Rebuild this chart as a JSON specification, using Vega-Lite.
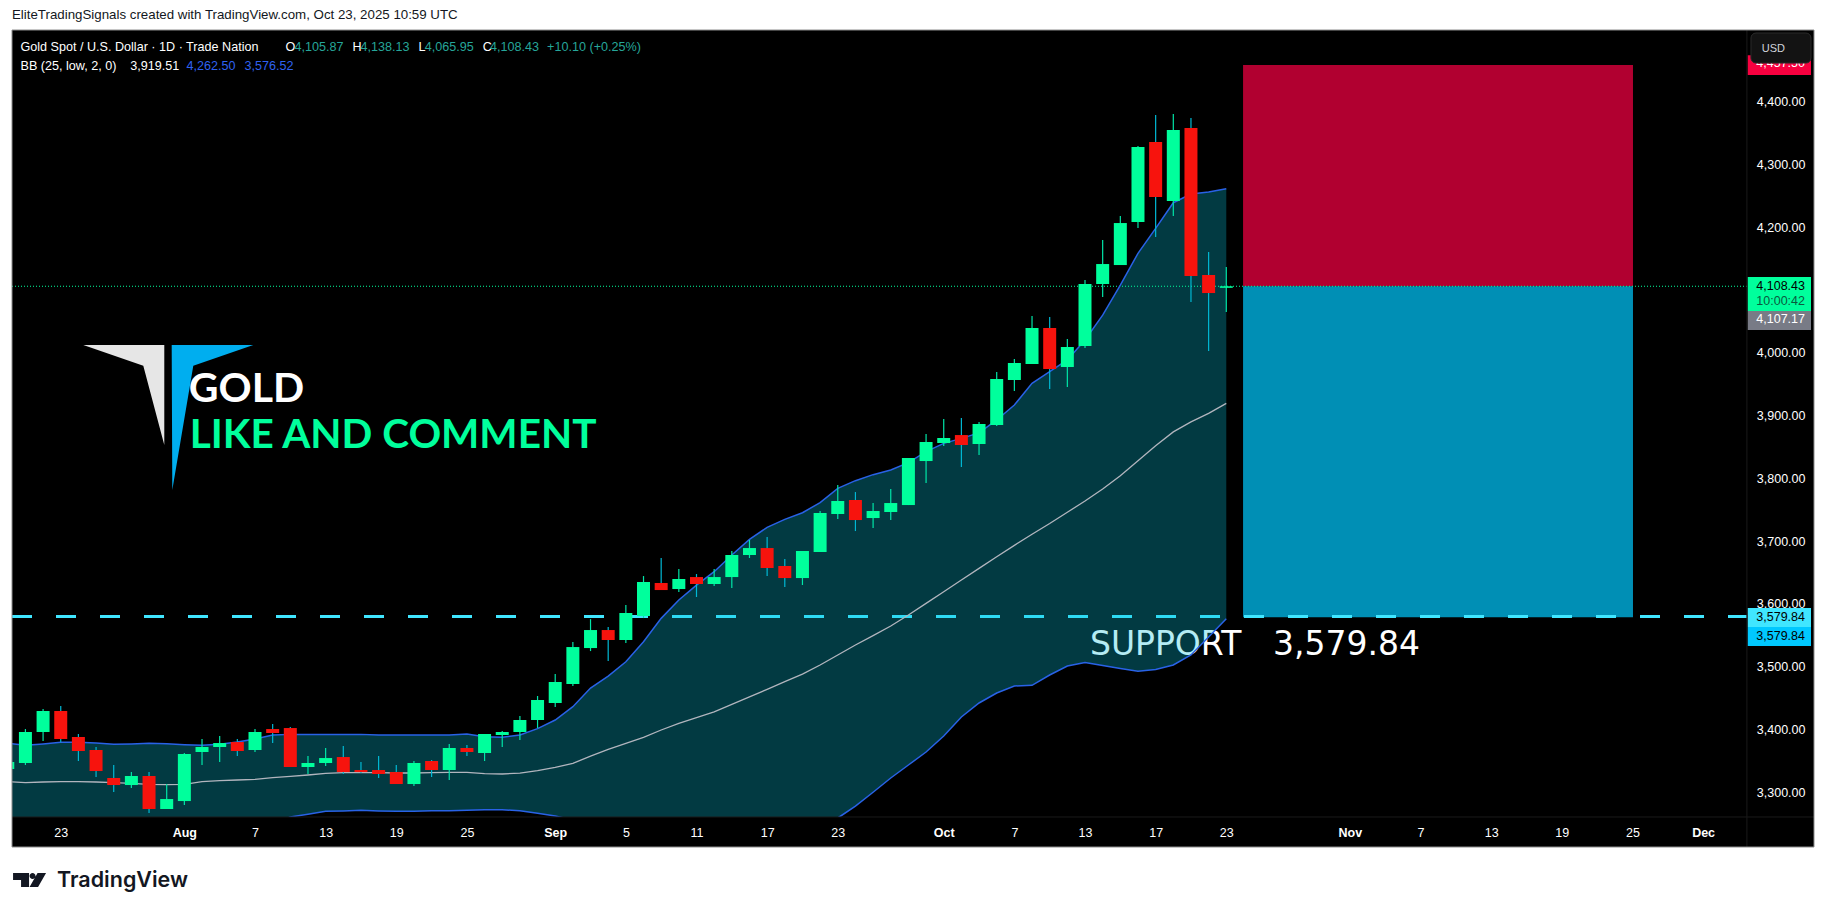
{
  "$schema": "https://vega.github.io/schema/vega-lite/v6.json",
  "width": 1802,
  "height": 817,
  "autosize": "none",
  "padding": {"left": 12, "top": 30, "right": 12, "bottom": 67},
  "background": "#ffffff",
  "view": {"fill": "#000000", "stroke": null},
  "title": {"text": "EliteTradingSignals created with TradingView.com, Oct 23, 2025 10:59 UTC", "anchor": "start", "frame": "group", "offset": 8, "fontSize": 13.3, "fontWeight": "normal", "font": "Liberation Sans", "color": "#131722"},
  "config": {"text": {"font": "Liberation Sans"}},
  "resolve": {"scale": {"color": "independent"}},
  "datasets": {
    "candles": [
      {"i":0,"o":3337,"h":3348.2,"l":3337,"c":3348.2,"dir":"up"},
      {"i":1,"o":3346.6,"h":3400.7,"l":3343.4,"c":3396,"dir":"up"},
      {"i":2,"o":3396,"h":3432.6,"l":3381.6,"c":3429.4,"dir":"up"},
      {"i":3,"o":3429.4,"h":3437.4,"l":3379.5,"c":3384.8,"dir":"down"},
      {"i":4,"o":3388,"h":3392.8,"l":3349.8,"c":3365.7,"dir":"down"},
      {"i":5,"o":3367.3,"h":3372.1,"l":3324.3,"c":3333.8,"dir":"down"},
      {"i":6,"o":3322.7,"h":3343.4,"l":3300.4,"c":3311.5,"dir":"down"},
      {"i":7,"o":3311.5,"h":3332.2,"l":3306.8,"c":3325.9,"dir":"up"},
      {"i":8,"o":3325.9,"h":3332.2,"l":3266.9,"c":3273.3,"dir":"down"},
      {"i":9,"o":3273.3,"h":3313.1,"l":3273.3,"c":3289.2,"dir":"up"},
      {"i":10,"o":3286,"h":3362.5,"l":3279.6,"c":3360.9,"dir":"up"},
      {"i":11,"o":3364.1,"h":3384.8,"l":3343.4,"c":3372.1,"dir":"up"},
      {"i":12,"o":3372.1,"h":3389.6,"l":3348.2,"c":3378.4,"dir":"up"},
      {"i":13,"o":3380,"h":3384.8,"l":3357.7,"c":3365.7,"dir":"down"},
      {"i":14,"o":3367.3,"h":3400.7,"l":3364.1,"c":3396,"dir":"up"},
      {"i":15,"o":3400.7,"h":3408.7,"l":3378.4,"c":3394.4,"dir":"down"},
      {"i":16,"o":3402.3,"h":3403.9,"l":3340.2,"c":3340.2,"dir":"down"},
      {"i":17,"o":3340.2,"h":3357.7,"l":3329.1,"c":3346.6,"dir":"up"},
      {"i":18,"o":3346.6,"h":3370.5,"l":3341.8,"c":3354.5,"dir":"up"},
      {"i":19,"o":3356.1,"h":3373.7,"l":3329.1,"c":3332.2,"dir":"down"},
      {"i":20,"o":3335.4,"h":3348.2,"l":3330.6,"c":3332.2,"dir":"down"},
      {"i":21,"o":3335.4,"h":3357.7,"l":3322.7,"c":3329.1,"dir":"down"},
      {"i":22,"o":3332.2,"h":3343.4,"l":3313.1,"c":3313.1,"dir":"down"},
      {"i":23,"o":3313.1,"h":3349.8,"l":3309.9,"c":3346.6,"dir":"up"},
      {"i":24,"o":3349.8,"h":3351.4,"l":3324.3,"c":3335.4,"dir":"down"},
      {"i":25,"o":3335.4,"h":3376.8,"l":3319.5,"c":3370.5,"dir":"up"},
      {"i":26,"o":3370.5,"h":3375.2,"l":3357.7,"c":3364.1,"dir":"down"},
      {"i":27,"o":3362.5,"h":3392.8,"l":3349.8,"c":3392.8,"dir":"up"},
      {"i":28,"o":3391.2,"h":3397.6,"l":3372.1,"c":3396,"dir":"up"},
      {"i":29,"o":3396,"h":3421.5,"l":3383.2,"c":3415.1,"dir":"up"},
      {"i":30,"o":3415.1,"h":3453.3,"l":3402.3,"c":3447,"dir":"up"},
      {"i":31,"o":3442.2,"h":3488.4,"l":3435.8,"c":3475.6,"dir":"up"},
      {"i":32,"o":3472.4,"h":3539.3,"l":3469.2,"c":3531.3,"dir":"up"},
      {"i":33,"o":3529.7,"h":3575.9,"l":3524.9,"c":3558.4,"dir":"up"},
      {"i":34,"o":3558.4,"h":3563.2,"l":3509,"c":3542.5,"dir":"down"},
      {"i":35,"o":3542.5,"h":3598.2,"l":3537.7,"c":3585.5,"dir":"up"},
      {"i":36,"o":3580.7,"h":3644.4,"l":3577.5,"c":3634.9,"dir":"up"},
      {"i":37,"o":3633.3,"h":3673.1,"l":3622.1,"c":3622.1,"dir":"down"},
      {"i":38,"o":3623.7,"h":3655.6,"l":3618.9,"c":3639.7,"dir":"up"},
      {"i":39,"o":3642.8,"h":3647.6,"l":3611,"c":3631.7,"dir":"down"},
      {"i":40,"o":3631.7,"h":3655.6,"l":3628.5,"c":3642.8,"dir":"up"},
      {"i":41,"o":3642.8,"h":3684.3,"l":3625.3,"c":3677.9,"dir":"up"},
      {"i":42,"o":3677.9,"h":3701.8,"l":3673.1,"c":3689,"dir":"up"},
      {"i":43,"o":3689,"h":3706.6,"l":3644.4,"c":3657.2,"dir":"down"},
      {"i":44,"o":3660.4,"h":3671.5,"l":3626.9,"c":3641.2,"dir":"down"},
      {"i":45,"o":3641.2,"h":3684.3,"l":3630.1,"c":3684.3,"dir":"up"},
      {"i":46,"o":3682.7,"h":3748,"l":3682.7,"c":3744.8,"dir":"up"},
      {"i":47,"o":3743.2,"h":3789.4,"l":3735.2,"c":3763.9,"dir":"up"},
      {"i":48,"o":3765.5,"h":3778.2,"l":3716.1,"c":3733.6,"dir":"down"},
      {"i":49,"o":3736.8,"h":3760.7,"l":3720.9,"c":3748,"dir":"up"},
      {"i":50,"o":3746.4,"h":3783,"l":3733.6,"c":3760.7,"dir":"up"},
      {"i":51,"o":3757.5,"h":3832.4,"l":3757.5,"c":3832.4,"dir":"up"},
      {"i":52,"o":3827.6,"h":3870.6,"l":3792.6,"c":3857.9,"dir":"up"},
      {"i":53,"o":3856.3,"h":3894.5,"l":3851.5,"c":3864.3,"dir":"up"},
      {"i":54,"o":3869,"h":3896.1,"l":3818.1,"c":3853.1,"dir":"down"},
      {"i":55,"o":3854.7,"h":3889.8,"l":3837.2,"c":3886.6,"dir":"up"},
      {"i":56,"o":3885,"h":3969.4,"l":3883.4,"c":3958.3,"dir":"up"},
      {"i":57,"o":3956.7,"h":3990.2,"l":3939.2,"c":3983.8,"dir":"up"},
      {"i":58,"o":3982.2,"h":4058.7,"l":3982.2,"c":4039.5,"dir":"up"},
      {"i":59,"o":4039.5,"h":4057.1,"l":3942.4,"c":3974.2,"dir":"down"},
      {"i":60,"o":3977.4,"h":4022,"l":3945.5,"c":4009.3,"dir":"up"},
      {"i":61,"o":4010.8,"h":4115.9,"l":4007.6,"c":4109.6,"dir":"up"},
      {"i":62,"o":4109.6,"h":4179.6,"l":4088.8,"c":4141.4,"dir":"up"},
      {"i":63,"o":4139.8,"h":4217.9,"l":4139.8,"c":4206.7,"dir":"up"},
      {"i":64,"o":4208.3,"h":4329.4,"l":4198.8,"c":4327.8,"dir":"up"},
      {"i":65,"o":4335.8,"h":4378.8,"l":4184.4,"c":4248.2,"dir":"down"},
      {"i":66,"o":4241.8,"h":4380.4,"l":4217.9,"c":4354.9,"dir":"up"},
      {"i":67,"o":4358.1,"h":4374,"l":4080.9,"c":4122.3,"dir":"down"},
      {"i":68,"o":4123.9,"h":4160.5,"l":4002.8,"c":4095.2,"dir":"down"},
      {"i":69,"o":4103.5,"h":4136.6,"l":4065,"c":4106,"dir":"up"}
    ],
    "bands": [
      {"i":0,"upper":3377.9,"basis":3316.8,"lower":3250},
      {"i":1,"upper":3374.7,"basis":3315.3,"lower":3250},
      {"i":2,"upper":3376.8,"basis":3316.3,"lower":3250},
      {"i":3,"upper":3379.5,"basis":3316.8,"lower":3250},
      {"i":4,"upper":3379.5,"basis":3316.8,"lower":3250},
      {"i":5,"upper":3378.4,"basis":3316.3,"lower":3250},
      {"i":6,"upper":3376.3,"basis":3315.3,"lower":3250},
      {"i":7,"upper":3376.8,"basis":3314.2,"lower":3250},
      {"i":8,"upper":3377.9,"basis":3312.6,"lower":3250},
      {"i":9,"upper":3377.4,"basis":3312.1,"lower":3250},
      {"i":10,"upper":3375.8,"basis":3312.6,"lower":3250},
      {"i":11,"upper":3374.7,"basis":3316.8,"lower":3250},
      {"i":12,"upper":3376.3,"basis":3318.4,"lower":3250},
      {"i":13,"upper":3380,"basis":3319.5,"lower":3250},
      {"i":14,"upper":3384.8,"basis":3320.6,"lower":3250},
      {"i":15,"upper":3391.2,"basis":3323.2,"lower":3250},
      {"i":16,"upper":3392.2,"basis":3325.3,"lower":3260.6},
      {"i":17,"upper":3392.2,"basis":3327.5,"lower":3264.8},
      {"i":18,"upper":3392.2,"basis":3330.1,"lower":3269.6},
      {"i":19,"upper":3392.2,"basis":3331.2,"lower":3270.1},
      {"i":20,"upper":3392.2,"basis":3331.2,"lower":3271.2},
      {"i":21,"upper":3391.2,"basis":3331.2,"lower":3270.1},
      {"i":22,"upper":3391.2,"basis":3330.7,"lower":3269.6},
      {"i":23,"upper":3391.2,"basis":3330.7,"lower":3269.6},
      {"i":24,"upper":3391.2,"basis":3331.2,"lower":3270.6},
      {"i":25,"upper":3391.2,"basis":3331.7,"lower":3270.6},
      {"i":26,"upper":3392.8,"basis":3331.7,"lower":3271.2},
      {"i":27,"upper":3388.5,"basis":3329.6,"lower":3272.2},
      {"i":28,"upper":3387.5,"basis":3329.1,"lower":3272.2},
      {"i":29,"upper":3391.2,"basis":3330.4,"lower":3270.6},
      {"i":30,"upper":3401.3,"basis":3334.4,"lower":3266.4},
      {"i":31,"upper":3415.1,"basis":3339.7,"lower":3262.2},
      {"i":32,"upper":3436.3,"basis":3346.1,"lower":3256},
      {"i":33,"upper":3466,"basis":3357.7,"lower":3245},
      {"i":34,"upper":3485,"basis":3368.4,"lower":3245},
      {"i":35,"upper":3507.9,"basis":3377.9,"lower":3245},
      {"i":36,"upper":3539.8,"basis":3387.5,"lower":3245},
      {"i":37,"upper":3577,"basis":3399.2,"lower":3245},
      {"i":38,"upper":3606.2,"basis":3409.8,"lower":3245},
      {"i":39,"upper":3630,"basis":3418.8,"lower":3245},
      {"i":40,"upper":3651.3,"basis":3428,"lower":3245},
      {"i":41,"upper":3677.9,"basis":3440,"lower":3245},
      {"i":42,"upper":3702.8,"basis":3452,"lower":3245},
      {"i":43,"upper":3722,"basis":3463.9,"lower":3245},
      {"i":44,"upper":3734.7,"basis":3476.1,"lower":3245},
      {"i":45,"upper":3745.3,"basis":3488.3,"lower":3245},
      {"i":46,"upper":3761.3,"basis":3502.7,"lower":3245},
      {"i":47,"upper":3784,"basis":3518.6,"lower":3259},
      {"i":48,"upper":3796.3,"basis":3534.5,"lower":3278},
      {"i":49,"upper":3805.9,"basis":3549.4,"lower":3300},
      {"i":50,"upper":3813.3,"basis":3564.8,"lower":3322.7},
      {"i":51,"upper":3825,"basis":3582.3,"lower":3343.4},
      {"i":52,"upper":3842.5,"basis":3600.9,"lower":3364.1},
      {"i":53,"upper":3855.8,"basis":3619.5,"lower":3389.6},
      {"i":54,"upper":3863.7,"basis":3638.1,"lower":3419.9},
      {"i":55,"upper":3872.5,"basis":3656.6,"lower":3442.2},
      {"i":56,"upper":3893,"basis":3675.2,"lower":3458.1},
      {"i":57,"upper":3916.9,"basis":3693.3,"lower":3469.3},
      {"i":58,"upper":3951.4,"basis":3711,"lower":3470.4},
      {"i":59,"upper":3970,"basis":3728,"lower":3486.8},
      {"i":60,"upper":3988.6,"basis":3746,"lower":3501.1},
      {"i":61,"upper":4020.4,"basis":3764,"lower":3506.7},
      {"i":62,"upper":4060,"basis":3783,"lower":3501.9},
      {"i":63,"upper":4107.9,"basis":3804,"lower":3497.2},
      {"i":64,"upper":4158.4,"basis":3828,"lower":3492.7},
      {"i":65,"upper":4198.2,"basis":3852,"lower":3495.6},
      {"i":66,"upper":4239.1,"basis":3874,"lower":3502.7},
      {"i":67,"upper":4252.9,"basis":3890,"lower":3518.6},
      {"i":68,"upper":4256.1,"basis":3903.5,"lower":3547.3},
      {"i":69,"upper":4261.4,"basis":3919.5,"lower":3576.5}
    ],
    "zones": [
      {"i":69.95,"i2":92.03,"p":4458.5,"p2":4106,"zone":"stop"},
      {"i":69.95,"i2":92.03,"p":4106,"p2":3578.8,"zone":"target"}
    ],
    "levels": [
      {"i":0.24,"i2":98.48,"p":3579.84,"name":"support"},
      {"i":0.24,"i2":98.48,"p":4106,"name":"last"}
    ],
    "axis_panel": [
      {"i":0.24,"i2":102.28,"p":3260.6,"p2":3212.8}
    ],
    "tags": [
      {"i":98.53,"i2":102.11,"p":4474,"p2":4442.5,"kind":"stop"},
      {"i":98.53,"i2":102.11,"p":4120.8,"p2":4066.6,"kind":"last"},
      {"i":98.53,"i2":102.11,"p":4066.6,"p2":4036.3,"kind":"prev"},
      {"i":98.53,"i2":102.11,"p":3593.5,"p2":3563.2,"kind":"support"},
      {"i":98.53,"i2":102.11,"p":3563.2,"p2":3533,"kind":"line"}
    ],
    "tag_labels": [
      {"i":101.77,"p":4461,"label":"4,457.50","tone":"light"},
      {"i":101.77,"p":4106.9,"label":"4,108.43","tone":"dark"},
      {"i":101.77,"p":4083,"label":"10:00:42","tone":"dim"},
      {"i":101.77,"p":4053.4,"label":"4,107.17","tone":"light"},
      {"i":101.77,"p":3579.7,"label":"3,579.84","tone":"dark"},
      {"i":101.77,"p":3549.4,"label":"3,579.84","tone":"dark"}
    ],
    "legend_text": [
      {"i":0.72,"p":4487.6,"label":"Gold Spot / U.S. Dollar · 1D · Trade Nation","tone":"white"},
      {"i":15.73,"p":4487.6,"label":"O","tone":"white"},
      {"i":16.23,"p":4487.6,"label":"4,105.87","tone":"teal"},
      {"i":19.52,"p":4487.6,"label":"H","tone":"white"},
      {"i":19.98,"p":4487.6,"label":"4,138.13","tone":"teal"},
      {"i":23.26,"p":4487.6,"label":"L","tone":"white"},
      {"i":23.61,"p":4487.6,"label":"4,065.95","tone":"teal"},
      {"i":26.9,"p":4487.6,"label":"C","tone":"white"},
      {"i":27.31,"p":4487.6,"label":"4,108.43","tone":"teal"},
      {"i":30.54,"p":4487.6,"label":"+10.10 (+0.25%)","tone":"teal"},
      {"i":0.72,"p":4457.3,"label":"BB (25, low, 2, 0)","tone":"white"},
      {"i":6.93,"p":4457.3,"label":"3,919.51","tone":"white"},
      {"i":10.12,"p":4457.3,"label":"4,262.50","tone":"blue"},
      {"i":13.4,"p":4457.3,"label":"3,576.52","tone":"blue"}
    ]
  },
  "layer": [
    {
      "data": {"name": "zones"},
      "mark": {"type": "rect"},
      "encoding": {
        "x": {"field": "i", "type": "quantitative", "scale": {"domain": [0.24, 102.28], "nice": false, "zero": false, "padding": 0},
          "axis": {"orient": "bottom", "title": null, "offset": -15, "zindex": 1, "domain": false, "ticks": false, "grid": false, "labelPadding": 0, "labelBaseline": "middle", "labelFont": "Liberation Sans", "labelFontSize": 12.5, "labelColor": "#ffffff", "labelOverlap": false, "labelFlush": false, "labelBound": false,
            "values": [3,10,14,18,22,26,31,35,39,43,47,53,57,61,65,69,76,80,84,88,92,96],
            "labelExpr": "{'3':'23','10':'Aug','14':'7','18':'13','22':'19','26':'25','31':'Sep','35':'5','39':'11','43':'17','47':'23','53':'Oct','57':'7','61':'13','65':'17','69':'23','76':'Nov','80':'7','84':'13','88':'19','92':'25','96':'Dec'}[datum.value]",
            "labelFontWeight": {"condition": {"test": "indexof([10,31,53,76,96],datum.value)>=0", "value": "bold"}, "value": "normal"}}},
        "x2": {"field": "i2"},
        "y": {"field": "p", "type": "quantitative", "scale": {"domain": [3212.8, 4514.2], "nice": false, "zero": false},
          "axis": {"orient": "right", "title": null, "offset": -9, "domain": false, "ticks": false, "grid": false, "labelPadding": 0, "labelAlign": "right", "labelBaseline": "middle", "labelFont": "Liberation Sans", "labelFontSize": 12.5, "labelColor": "#ffffff", "labelOverlap": false, "labelBound": false,
            "values": [3300,3400,3500,3600,3700,3800,3900,4000,4100,4200,4300,4400], "format": ",.2f"}},
        "y2": {"field": "p2"},
        "color": {"field": "zone", "type": "nominal", "scale": {"domain": ["stop","target"], "range": ["#b10030","#008fb5"]}, "legend": null}
      }
    },
    {
      "data": {"name": "levels"},
      "transform": [{"filter": "datum.name=='support'"}],
      "mark": {"type": "rule", "color": "#40e6ff", "strokeWidth": 3, "strokeDash": [20,24]},
      "encoding": {
        "x": {"field": "i", "type": "quantitative"},
        "x2": {"field": "i2"},
        "y": {"field": "p", "type": "quantitative"}
      }
    },
    {
      "data": {"values": [{"i":61.28,"p":3534.6,"label":"SUPPORT\u00a0\u00a0\u00a03,579.84"}]},
      "mark": {"type": "text", "font": "DejaVu Sans", "fontSize": 33, "align": "left", "baseline": "middle", "color": "#ffffff"},
      "encoding": {
        "x": {"field": "i", "type": "quantitative"},
        "y": {"field": "p", "type": "quantitative"},
        "text": {"field": "label"}
      }
    },
    {
      "data": {"name": "bands"},
      "mark": {"type": "area", "color": "#07c1dc", "opacity": 0.3, "clip": true},
      "encoding": {
        "x": {"field": "i", "type": "quantitative"},
        "y": {"field": "upper", "type": "quantitative"},
        "y2": {"field": "lower"}
      }
    },
    {
      "data": {"name": "levels"},
      "transform": [{"filter": "datum.name=='last'"}],
      "mark": {"type": "rule", "color": "#00ff9c", "strokeWidth": 1, "strokeDash": [1,2]},
      "encoding": {
        "x": {"field": "i", "type": "quantitative"},
        "x2": {"field": "i2"},
        "y": {"field": "p", "type": "quantitative"}
      }
    },
    {
      "data": {"name": "bands"},
      "mark": {"type": "line", "color": "#b2b5be", "strokeWidth": 1.3, "clip": true},
      "encoding": {
        "x": {"field": "i", "type": "quantitative"},
        "y": {"field": "basis", "type": "quantitative"}
      }
    },
    {
      "data": {"name": "bands"},
      "mark": {"type": "line", "color": "#2962e6", "strokeWidth": 1.5, "clip": true},
      "encoding": {
        "x": {"field": "i", "type": "quantitative"},
        "y": {"field": "upper", "type": "quantitative"}
      }
    },
    {
      "data": {"name": "bands"},
      "mark": {"type": "line", "color": "#2962e6", "strokeWidth": 1.5, "clip": true},
      "encoding": {
        "x": {"field": "i", "type": "quantitative"},
        "y": {"field": "lower", "type": "quantitative"}
      }
    },
    {
      "data": {"name": "candles"},
      "mark": {"type": "rule", "strokeWidth": 1.2, "clip": true},
      "encoding": {
        "x": {"field": "i", "type": "quantitative"},
        "y": {"field": "h", "type": "quantitative"},
        "y2": {"field": "l"},
        "color": {"field": "dir", "type": "nominal", "scale": {"domain": ["up","down"], "range": ["#00e6a8","#00b8d4"]}, "legend": null}
      }
    },
    {
      "data": {"name": "candles"},
      "mark": {"type": "bar", "width": 13, "clip": true},
      "encoding": {
        "x": {"field": "i", "type": "quantitative"},
        "y": {"field": "o", "type": "quantitative"},
        "y2": {"field": "c"},
        "color": {"field": "dir", "type": "nominal", "scale": {"domain": ["up","down"], "range": ["#00ff9c","#f7130d"]}, "legend": null}
      }
    },
    {
      "data": {"name": "axis_panel"},
      "mark": {"type": "rect", "color": "#000000"},
      "encoding": {
        "x": {"field": "i", "type": "quantitative"},
        "x2": {"field": "i2"},
        "y": {"field": "p", "type": "quantitative"},
        "y2": {"field": "p2"}
      }
    },
    {
      "data": {"values": [{"i":98.48,"p":4514.2,"p2":3212.8}]},
      "mark": {"type": "rule", "color": "#1a1a1a", "strokeWidth": 1},
      "encoding": {
        "x": {"field": "i", "type": "quantitative"},
        "y": {"field": "p", "type": "quantitative"},
        "y2": {"field": "p2"}
      }
    },
    {
      "data": {"values": [{"i":0.24,"i2":102.28,"p":3260.6}]},
      "mark": {"type": "rule", "color": "#1a1a1a", "strokeWidth": 1},
      "encoding": {
        "x": {"field": "i", "type": "quantitative"},
        "x2": {"field": "i2"},
        "y": {"field": "p", "type": "quantitative"}
      }
    },
    {
      "data": {"name": "tags"},
      "mark": {"type": "rect"},
      "encoding": {
        "x": {"field": "i", "type": "quantitative"},
        "x2": {"field": "i2"},
        "y": {"field": "p", "type": "quantitative"},
        "y2": {"field": "p2"},
        "color": {"field": "kind", "type": "nominal", "scale": {"domain": ["stop","last","prev","support","line"], "range": ["#f7003f","#00ff9c","#787b86","#40e6ff","#00c8ff"]}, "legend": null}
      }
    },
    {
      "data": {"name": "tag_labels"},
      "mark": {"type": "text", "fontSize": 12.5, "align": "right", "baseline": "middle"},
      "encoding": {
        "x": {"field": "i", "type": "quantitative"},
        "y": {"field": "p", "type": "quantitative"},
        "text": {"field": "label"},
        "color": {"field": "tone", "type": "nominal", "scale": {"domain": ["light","dark","dim"], "range": ["#ffffff","#000000","#0b5a3e"]}, "legend": null}
      }
    },
    {
      "data": {"values": [{"i":98.71,"i2":102.11,"p":4509.4,"p2":4461.6}]},
      "mark": {"type": "rect", "color": "#131313", "stroke": "#2a2a2a", "strokeWidth": 1, "cornerRadius": 5},
      "encoding": {
        "x": {"field": "i", "type": "quantitative"},
        "x2": {"field": "i2"},
        "y": {"field": "p", "type": "quantitative"},
        "y2": {"field": "p2"}
      }
    },
    {
      "data": {"values": [{"i":99.32,"p":4484.7,"label":"USD"}]},
      "mark": {"type": "text", "fontSize": 11, "align": "left", "baseline": "middle", "color": "#d1d4dc"},
      "encoding": {
        "x": {"field": "i", "type": "quantitative"},
        "y": {"field": "p", "type": "quantitative"},
        "text": {"field": "label"}
      }
    },
    {
      "data": {"name": "legend_text"},
      "mark": {"type": "text", "fontSize": 12.6, "align": "left", "baseline": "middle"},
      "encoding": {
        "x": {"field": "i", "type": "quantitative"},
        "y": {"field": "p", "type": "quantitative"},
        "text": {"field": "label"},
        "color": {"field": "tone", "type": "nominal", "scale": {"domain": ["white","teal","blue"], "range": ["#ffffff","#26a69a","#2f62f0"]}, "legend": null}
      }
    },
    {
      "data": {"values": [{"i":4.26,"p":4012.4}]},
      "mark": {"type": "point", "filled": true, "size": 4, "opacity": 1, "strokeWidth": 0, "color": "#e6e6e6", "shape": "M0.3 0L81.3 0L81.3 100L60.3 20.7Z"},
      "encoding": {
        "x": {"field": "i", "type": "quantitative"},
        "y": {"field": "p", "type": "quantitative"}
      }
    },
    {
      "data": {"values": [{"i":4.26,"p":4012.4}]},
      "mark": {"type": "point", "filled": true, "size": 4, "opacity": 1, "strokeWidth": 0, "color": "#00aeef", "shape": "M88.7 0L170.3 0L110.3 20.7L89.3 145Z"},
      "encoding": {
        "x": {"field": "i", "type": "quantitative"},
        "y": {"field": "p", "type": "quantitative"}
      }
    },
    {
      "data": {"values": [{"i":10.25,"p":3941.5,"label":"GOLD"}]},
      "mark": {"type": "text", "font": "Lato", "fontWeight": "bold", "fontSize": 41, "align": "left", "baseline": "middle", "color": "#ffffff"},
      "encoding": {
        "x": {"field": "i", "type": "quantitative"},
        "y": {"field": "p", "type": "quantitative"},
        "text": {"field": "label"}
      }
    },
    {
      "data": {"values": [{"i":10.3,"p":3867.5,"label":"LIKE AND COMMENT"}]},
      "mark": {"type": "text", "font": "Lato", "fontWeight": "bold", "fontSize": 40.5, "align": "left", "baseline": "middle", "color": "#00ff9c"},
      "encoding": {
        "x": {"field": "i", "type": "quantitative"},
        "y": {"field": "p", "type": "quantitative"},
        "text": {"field": "label"}
      }
    },
    {
      "data": {"values": [{"i":0.3,"p":3171.4}]},
      "mark": {"type": "point", "filled": true, "size": 4, "opacity": 1, "strokeWidth": 0, "color": "#131722", "shape": "M0 0H16V14H8V7H0ZM19.5 0A3 3 0 1 1 19.49 0ZM33 0L25 14H16.5L24.5 0Z"},
      "encoding": {
        "x": {"field": "i", "type": "quantitative"},
        "y": {"field": "p", "type": "quantitative"}
      }
    },
    {
      "data": {"values": [{"i":2.79,"p":3158.7,"label":"TradingView"}]},
      "mark": {"type": "text", "font": "Inter", "fontWeight": 600, "fontSize": 21.5, "align": "left", "baseline": "middle", "color": "#131722"},
      "encoding": {
        "x": {"field": "i", "type": "quantitative"},
        "y": {"field": "p", "type": "quantitative"},
        "text": {"field": "label"}
      }
    },
    {
      "data": {"values": [{"i":0.24,"i2":102.28,"p":4514.2,"p2":3212.8}]},
      "mark": {"type": "rect", "fill": null, "stroke": "#8c8c8c", "strokeWidth": 1},
      "encoding": {
        "x": {"field": "i", "type": "quantitative"},
        "x2": {"field": "i2"},
        "y": {"field": "p", "type": "quantitative"},
        "y2": {"field": "p2"}
      }
    }
  ]
}
